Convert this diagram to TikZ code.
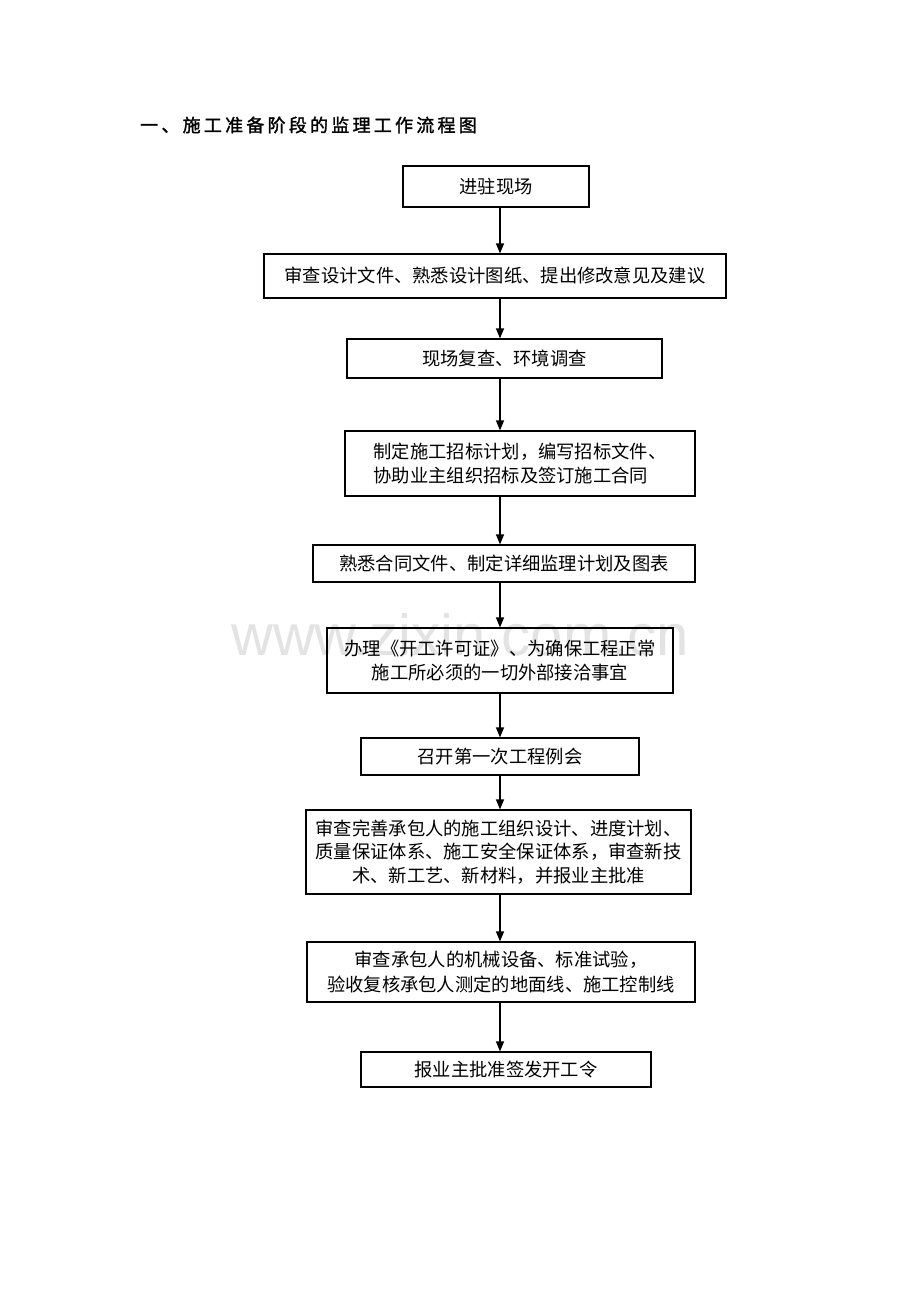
\documentclass[tikz,border=0pt]{standalone}
\usepackage{fontspec}
\setmainfont{Noto Sans CJK SC}
\newfontfamily\wmfont{Liberation Sans}
\usetikzlibrary{arrows.meta}
\begin{document}
\begin{tikzpicture}[x=1pt,y=-1pt,
  box/.style={draw,line width=1.2pt,inner sep=0pt,align=center,font=\fontsize{18.3}{23.5}\selectfont},
  arr/.style={line width=1.2pt,-{Triangle[length=10pt,width=8pt]}}]
\useasboundingbox (0,0) rectangle (920,1302);
\fill[white] (0,0) rectangle (920,1302);
% watermark
\node[text=black!11,font=\wmfont\fontsize{58}{58}\selectfont,inner sep=0pt] (wm) at (460,635) {www.zixin.com.cn};
% title
\node[anchor=west,inner sep=0pt,font=\fontsize{18}{18}\selectfont\addfontfeature{LetterSpace=18,FakeBold=1.5}] (title) at (140,125) {一、施工准备阶段的监理工作流程图};
\coordinate (ax) at (500,0);
\node[box,minimum width=186pt,minimum height=41pt] (b1) at (496,186.5) {进驻现场};
\node[box,minimum width=462pt,minimum height=44pt] (b2) at (495,276) {审查设计文件、熟悉设计图纸、提出修改意见及建议};
\node[box,minimum width=315pt,minimum height=39pt] (b3) at (504.5,358.5) {现场复查、环境调查};
\node[box,minimum width=350pt,minimum height=65pt,align=left] (b4) at (520,463.5) {制定施工招标计划，编写招标文件、\\协助业主组织招标及签订施工合同};
\node[box,minimum width=382pt,minimum height=37pt] (b5) at (504,563.5) {熟悉合同文件、制定详细监理计划及图表};
\node[box,minimum width=346pt,minimum height=65pt] (b6) at (500,660.5) {办理《开工许可证》、为确保工程正常\\施工所必须的一切外部接洽事宜};
\node[box,minimum width=278pt,minimum height=37pt] (b7) at (500,756.5) {召开第一次工程例会};
\node[box,minimum width=385pt,minimum height=84pt] (b8) at (498.5,852) {审查完善承包人的施工组织设计、进度计划、\\质量保证体系、施工安全保证体系，审查新技\\术、新工艺、新材料，并报业主批准};
\node[box,minimum width=388pt,minimum height=60pt,font=\fontsize{18.3}{25}\selectfont] (b9) at (501,972) {审查承包人的机械设备、标准试验，\\验收复核承包人测定的地面线、施工控制线};
\node[box,minimum width=290pt,minimum height=35pt] (b10) at (506,1069.5) {报业主批准签发开工令};
\foreach \a/\b in {b1/b2,b2/b3,b3/b4,b4/b5,b5/b6,b6/b7,b7/b8,b8/b9,b9/b10}
  \draw[arr] (\a.south -| ax) -- (\b.north -| ax);
\end{tikzpicture}
\end{document}
